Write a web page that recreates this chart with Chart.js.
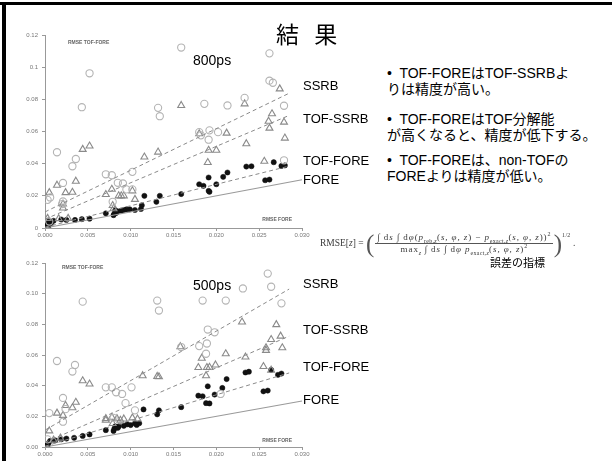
<!DOCTYPE html>
<html lang="ja">
<head>
<meta charset="utf-8">
<title>結果</title>
<script src="https://cdn.jsdelivr.net/npm/chart.js@4.4.1/dist/chart.umd.min.js"></script>
<style>
  html, body { margin: 0; padding: 0; background: #fff; }
  #page { position: relative; width: 612px; height: 461px; overflow: hidden; background: #fff;
          font-family: "Liberation Sans", "Noto Sans CJK JP", sans-serif; }
  .frame-top { position: absolute; left: 0; top: 2px; width: 612px; height: 3px; background: #000; }
  .frame-left { position: absolute; left: 2px; top: 2px; width: 4px; height: 459px; background: #000; }
  canvas.plot { position: absolute; left: 0; filter: blur(0.55px); }
  .t { position: absolute; white-space: nowrap; line-height: 1; color: #000; }
  .title { left: 276px; top: 22px; font-family: "Noto Sans CJK JP", sans-serif; font-size: 23px; word-spacing: 10px; }
  .res { font-size: 14px; }
  .lab { font-size: 13px; left: 303px; }
  .bullets { position: absolute; left: 387px; font-size: 14px; line-height: 16px; white-space: nowrap; }
  .eq { position: absolute; left: 320px; top: 231px; display: flex; align-items: center;
        font-family: "Liberation Serif", "DejaVu Serif", serif; font-size: 9.5px; color: #3a3a3a;
        white-space: nowrap; filter: blur(0.35px); line-height: 1; }
  .eq .frac { display: inline-flex; flex-direction: column; align-items: center; margin: 0 1px;
              font-size: 9px; letter-spacing: 0.9px; line-height: 9px; }
  .eq .num { border-bottom: 0.8px solid #555; padding: 0 2px 1px; }
  .eq .den { padding-top: 1px; }
  .eq .paren { font-size: 25px; font-weight: 300; line-height: 1; color: #555; }
  .eq sub, .eq sup { font-size: 6px; line-height: 0; letter-spacing: 0.3px; }
  .note { left: 490px; top: 257px; font-size: 11px; font-family: "Noto Sans CJK JP", sans-serif; }
</style>
</head>
<body>
<div id="page">
  <div class="frame-top"></div>
  <div class="frame-left"></div>

  <canvas id="c800" class="plot" width="312" height="242" style="top:0px"></canvas>
  <canvas id="c500" class="plot" width="312" height="221" style="top:240px"></canvas>

  <div class="t title">結 果</div>
  <div class="t res" style="left:193px;top:53px">800ps</div>
  <div class="t res" style="left:193px;top:278px">500ps</div>

  <div class="t lab" style="top:79px">SSRB</div>
  <div class="t lab" style="top:112px">TOF-SSRB</div>
  <div class="t lab" style="top:154px">TOF-FORE</div>
  <div class="t lab" style="top:173px">FORE</div>

  <div class="t lab" style="top:277px">SSRB</div>
  <div class="t lab" style="top:323px">TOF-SSRB</div>
  <div class="t lab" style="top:360px">TOF-FORE</div>
  <div class="t lab" style="top:393px">FORE</div>

  <div class="bullets" style="top:65px">•&nbsp; TOF-FOREはTOF-SSRBよ<br>りは精度が高い。</div>
  <div class="bullets" style="top:111px">•&nbsp; TOF-FOREはTOF分解能<br>が高くなると、精度が低下する。</div>
  <div class="bullets" style="top:152px">•&nbsp; TOF-FOREは、non-TOFの<br>FOREよりは精度が低い。</div>

  <div class="eq">
    <span>RMSE[<i>z</i>]&nbsp;=&nbsp;</span>
    <span class="paren">(</span>
    <span class="frac">
      <span class="num">∫ d<i>s</i> ∫ d<i>φ</i>(<i>p</i><sub>reb,<i>z</i></sub>(<i>s</i>, <i>φ</i>, <i>z</i>) − <i>p</i><sub>exact,<i>z</i></sub>(<i>s</i>, <i>φ</i>, <i>z</i>))<sup>2</sup></span>
      <span class="den">max<sub><i>z</i></sub> ∫ d<i>s</i> ∫ d<i>φ</i> <i>p</i><sub>exact,<i>z</i></sub>(<i>s</i>, <i>φ</i>, <i>z</i>)<sup>2</sup></span>
    </span>
    <span class="paren">)</span><sup style="align-self:flex-start;margin-top:4px">1/2</sup><span>&nbsp;.</span>
  </div>
  <div class="t note">誤差の指標</div>
</div>

<script>
// Tick labels
const xTicks = ['0.000', '0.005', '0.010', '0.015', '0.020', '0.025', '0.030'];
const yTicks800 = ['0', '0.02', '0.04', '0.06', '0.08', '0.1', '0.12'];
const yTicks500 = ['0.00', '0.02', '0.04', '0.06', '0.08', '0.10', '0.12'];

// 800ps: [RMSE FORE, RMSE of method]
const ssrb800 = [
  [0.0159,0.1122],[0.0052,0.0962],[0.0262,0.1086],[0.0262,0.0916],[0.0266,0.0903],[0.0043,0.0751],
  [0.0132,0.0747],[0.0134,0.0695],[0.0186,0.0772],[0.0213,0.0762],[0.0233,0.0809],[0.0279,0.0760],
  [0.0014,0.0471],[0.0036,0.0429],[0.0032,0.0384],[0.0021,0.0280],[0.0006,0.0190],[0.0071,0.0334],
  [0.0078,0.0328],[0.0085,0.0281],[0.0091,0.0277],[0.0095,0.0240],[0.0102,0.0240],[0.0102,0.0349],
  [0.0180,0.0596],[0.0182,0.0576],[0.0191,0.0549],[0.0202,0.0596],[0.0192,0.0607],[0.0279,0.0421],
  [0.0020,0.0149],[0.0005,0.0040],[0.0003,0.0175],[0.0079,0.0163],[0.0021,0.0165]
];
const tofSsrb800 = [
  [0.0159,0.0762],[0.0233,0.0772],[0.0274,0.0865],[0.0265,0.0710],[0.0261,0.0664],[0.0262,0.0621],
  [0.0279,0.0658],[0.0280,0.0559],[0.0235,0.0524],[0.0212,0.0590],[0.0180,0.0586],[0.0191,0.0483],
  [0.0200,0.0483],[0.0190,0.0407],[0.0256,0.0415],[0.0132,0.0472],[0.0116,0.0441],[0.0052,0.0510],
  [0.0044,0.0489],[0.0036,0.0291],[0.0014,0.0266],[0.0024,0.0220],[0.0032,0.0222],[0.0005,0.0220],
  [0.0078,0.0241],[0.0071,0.0208],[0.0086,0.0200],[0.0092,0.0200],[0.0102,0.0231],[0.0105,0.0178],
  [0.0021,0.0149],[0.0021,0.0124],[0.0003,0.0060],[0.0016,0.0058],[0.0027,0.0060],[0.0079,0.0140],
  [0.0080,0.0120],[0.0089,0.0200]
];
const tofFore800 = [
  [0.0267,0.0409],[0.0276,0.0386],[0.0280,0.0389],[0.0235,0.0382],[0.0241,0.0384],[0.0213,0.0345],
  [0.0208,0.0318],[0.0191,0.0314],[0.0180,0.0272],[0.0185,0.0262],[0.0200,0.0272],[0.0191,0.0231],
  [0.0192,0.0225],[0.0257,0.0297],[0.0262,0.0301],[0.0159,0.0211],[0.0134,0.0200],[0.0130,0.0163],
  [0.0116,0.0200],[0.0113,0.0141],[0.0112,0.0118],[0.0105,0.0112],[0.0099,0.0116],[0.0095,0.0116],
  [0.0092,0.0112],[0.0089,0.0108],[0.0085,0.0104],[0.0083,0.0094],[0.0081,0.0090],[0.0071,0.0091],
  [0.0052,0.0058],[0.0043,0.0055],[0.0035,0.0050],[0.0025,0.0050],[0.0019,0.0053],[0.0010,0.0045],
  [0.0004,0.0045],[0.0002,0.0020],[0.0004,0.0010],[0.0001,0.0005],[0.0007,0.0030],[0.0080,0.0080],
  [0.0082,0.0110]
];

// 500ps
const ssrb500 = [
  [0.0260,0.1131],[0.0264,0.1045],[0.0231,0.1034],[0.0276,0.0937],[0.0211,0.0955],[0.0184,0.0955],
  [0.0131,0.0955],[0.0133,0.0890],[0.0044,0.0948],[0.0190,0.0766],[0.0198,0.0748],[0.0180,0.0658],
  [0.0189,0.0675],[0.0188,0.0608],[0.0159,0.0652],[0.0014,0.0561],[0.0035,0.0535],[0.0032,0.0492],
  [0.0021,0.0320],[0.0005,0.0221],[0.0071,0.0389],[0.0078,0.0389],[0.0083,0.0357],[0.0090,0.0346],
  [0.0094,0.0286],[0.0101,0.0389],[0.0105,0.0239],[0.0024,0.0247],[0.0205,0.0346],[0.0021,0.0165],
  [0.0003,0.0050],[0.0080,0.0190]
];
const tofSsrb500 = [
  [0.0230,0.0815],[0.0270,0.0798],[0.0275,0.0723],[0.0264,0.0701],[0.0258,0.0647],[0.0258,0.0630],
  [0.0277,0.0647],[0.0234,0.0587],[0.0211,0.0608],[0.0183,0.0579],[0.0189,0.0518],[0.0192,0.0520],
  [0.0179,0.0518],[0.0199,0.0535],[0.0188,0.0465],[0.0255,0.0525],[0.0264,0.0501],[0.0158,0.0654],
  [0.0114,0.0465],[0.0131,0.0460],[0.0133,0.0458],[0.0044,0.0432],[0.0052,0.0411],[0.0036,0.0292],
  [0.0024,0.0271],[0.0032,0.0256],[0.0014,0.0221],[0.0021,0.0206],[0.0005,0.0105],[0.0071,0.0185],
  [0.0071,0.0174],[0.0078,0.0194],[0.0084,0.0185],[0.0092,0.0183],[0.0088,0.0174],[0.0102,0.0190],
  [0.0108,0.0183],[0.0010,0.0045],[0.0018,0.0058],[0.0079,0.0153]
];
const tofFore500 = [
  [0.0276,0.0479],[0.0272,0.0471],[0.0264,0.0503],[0.0234,0.0486],[0.0238,0.0491],[0.0212,0.0443],
  [0.0190,0.0396],[0.0207,0.0385],[0.0179,0.0335],[0.0184,0.0331],[0.0198,0.0342],[0.0188,0.0286],
  [0.0192,0.0284],[0.0255,0.0363],[0.0260,0.0368],[0.0159,0.0260],[0.0131,0.0213],[0.0133,0.0239],
  [0.0115,0.0245],[0.0110,0.0155],[0.0107,0.0144],[0.0105,0.0155],[0.0100,0.0143],[0.0096,0.0148],
  [0.0092,0.0138],[0.0086,0.0135],[0.0082,0.0135],[0.0081,0.0120],[0.0080,0.0105],[0.0071,0.0110],
  [0.0052,0.0082],[0.0044,0.0072],[0.0034,0.0060],[0.0025,0.0055],[0.0019,0.0050],[0.0012,0.0043],
  [0.0006,0.0040],[0.0001,0.0005],[0.0002,0.0015],[0.0004,0.0025],[0.0003,0.0010],[0.0085,0.0125]
];

// Fitted trend lines: x range and y at both ends
const fitX = [0, 0.0285];
const ssrbFit800 = [0.0100, 0.0838];
const tofSsrbFit800 = [0.0055, 0.0700];
const tofForeFit800 = [0.0005, 0.0385];
const ssrbFit500 = [0.0110, 0.1030];
const tofSsrbFit500 = [0.0030, 0.0723];
const tofForeFit500 = [0.0005, 0.0483];
// FORE reference: RMSE of FORE against itself
const foreX = [0, 0.030];
const foreY = [0, 0.030];

const toXY = arr => arr.map(p => ({ x: p[0], y: p[1] }));
const line = (xs, ys) => xs.map((x, i) => ({ x, y: ys[i] }));

// Small axis captions drawn inside the plot area
const captionPlugin = {
  id: 'captions',
  afterDraw(chart, args, opts) {
    const { ctx, chartArea } = chart;
    ctx.save();
    ctx.fillStyle = '#666';
    ctx.font = 'bold 5px "Liberation Sans", sans-serif';
    ctx.textBaseline = 'middle';
    ctx.textAlign = 'left';
    ctx.fillText('RMSE TOF-FORE', chartArea.left + opts.topDx, chartArea.top + opts.topDy);
    ctx.textAlign = 'right';
    ctx.fillText('RMSE FORE', chartArea.right - 10, chartArea.bottom - opts.botDy);
    ctx.restore();
  }
};

function makeChart(id, sets, yLabels, padTop, caption) {
  const dashed = (data) => ({
    data: line(fitX, data), showLine: true, pointRadius: 0,
    borderColor: '#8a8a8a', borderWidth: 1, borderDash: [4, 3], fill: false
  });
  return new Chart(document.getElementById(id), {
    type: 'scatter',
    data: {
      datasets: [
        { label: 'FORE', data: line(foreX, foreY), showLine: true, pointRadius: 0,
          borderColor: '#9a9a9a', borderWidth: 1.2, clip: false },
        Object.assign({ label: 'SSRB fit' }, dashed(sets.ssrbFit)),
        Object.assign({ label: 'TOF-SSRB fit' }, dashed(sets.tofSsrbFit)),
        Object.assign({ label: 'TOF-FORE fit' }, dashed(sets.tofForeFit)),
        { label: 'SSRB', data: toXY(sets.ssrb), pointStyle: 'circle', pointRadius: 3.6,
          borderColor: '#b4b4b4', backgroundColor: 'rgba(255,255,255,0)', borderWidth: 1.1 },
        { label: 'TOF-SSRB', data: toXY(sets.tofSsrb), pointStyle: 'triangle', pointRadius: 4,
          borderColor: '#8a8a8a', backgroundColor: 'rgba(255,255,255,0)', borderWidth: 1.1 },
        { label: 'TOF-FORE', data: toXY(sets.tofFore), pointStyle: 'circle', pointRadius: 2.6,
          borderColor: '#111', backgroundColor: '#111', borderWidth: 0.5 }
      ]
    },
    options: {
      responsive: false,
      animation: false,
      events: [],
      layout: { padding: { top: padTop, right: 10, left: 0, bottom: 0 } },
      plugins: { legend: { display: false }, tooltip: { enabled: false }, captions: caption },
      scales: {
        x: {
          type: 'linear', min: 0, max: 0.030,
          afterFit: s => { s.height = 14; },
          grid: { drawOnChartArea: false, drawTicks: true, tickLength: 3, color: '#999' },
          border: { color: '#999', width: 1 },
          ticks: { stepSize: 0.005, autoSkip: false, maxRotation: 0, padding: 1, color: '#777',
                   font: { family: '"Liberation Sans", sans-serif', size: 6 },
                   callback: (v, i) => xTicks[i] }
        },
        y: {
          type: 'linear', min: 0, max: 0.12,
          afterFit: s => { s.width = 45; },
          grid: { drawOnChartArea: false, drawTicks: true, tickLength: 3, color: '#999' },
          border: { color: '#999', width: 1 },
          ticks: { stepSize: 0.02, autoSkip: false, padding: 4, color: '#777',
                   font: { family: '"Liberation Sans", sans-serif', size: 6 },
                   callback: (v, i) => yLabels[i] }
        }
      }
    },
    plugins: [captionPlugin]
  });
}

makeChart('c800', {
  ssrb: ssrb800, tofSsrb: tofSsrb800, tofFore: tofFore800,
  ssrbFit: ssrbFit800, tofSsrbFit: tofSsrbFit800, tofForeFit: tofForeFit800
}, yTicks800, 35, { topDx: 23, topDy: 8, botDy: 8 });

makeChart('c500', {
  ssrb: ssrb500, tofSsrb: tofSsrb500, tofFore: tofFore500,
  ssrbFit: ssrbFit500, tofSsrbFit: tofSsrbFit500, tofForeFit: tofForeFit500
}, yTicks500, 23, { topDx: 17, topDy: 5, botDy: 6 });
</script>
</body>
</html>
